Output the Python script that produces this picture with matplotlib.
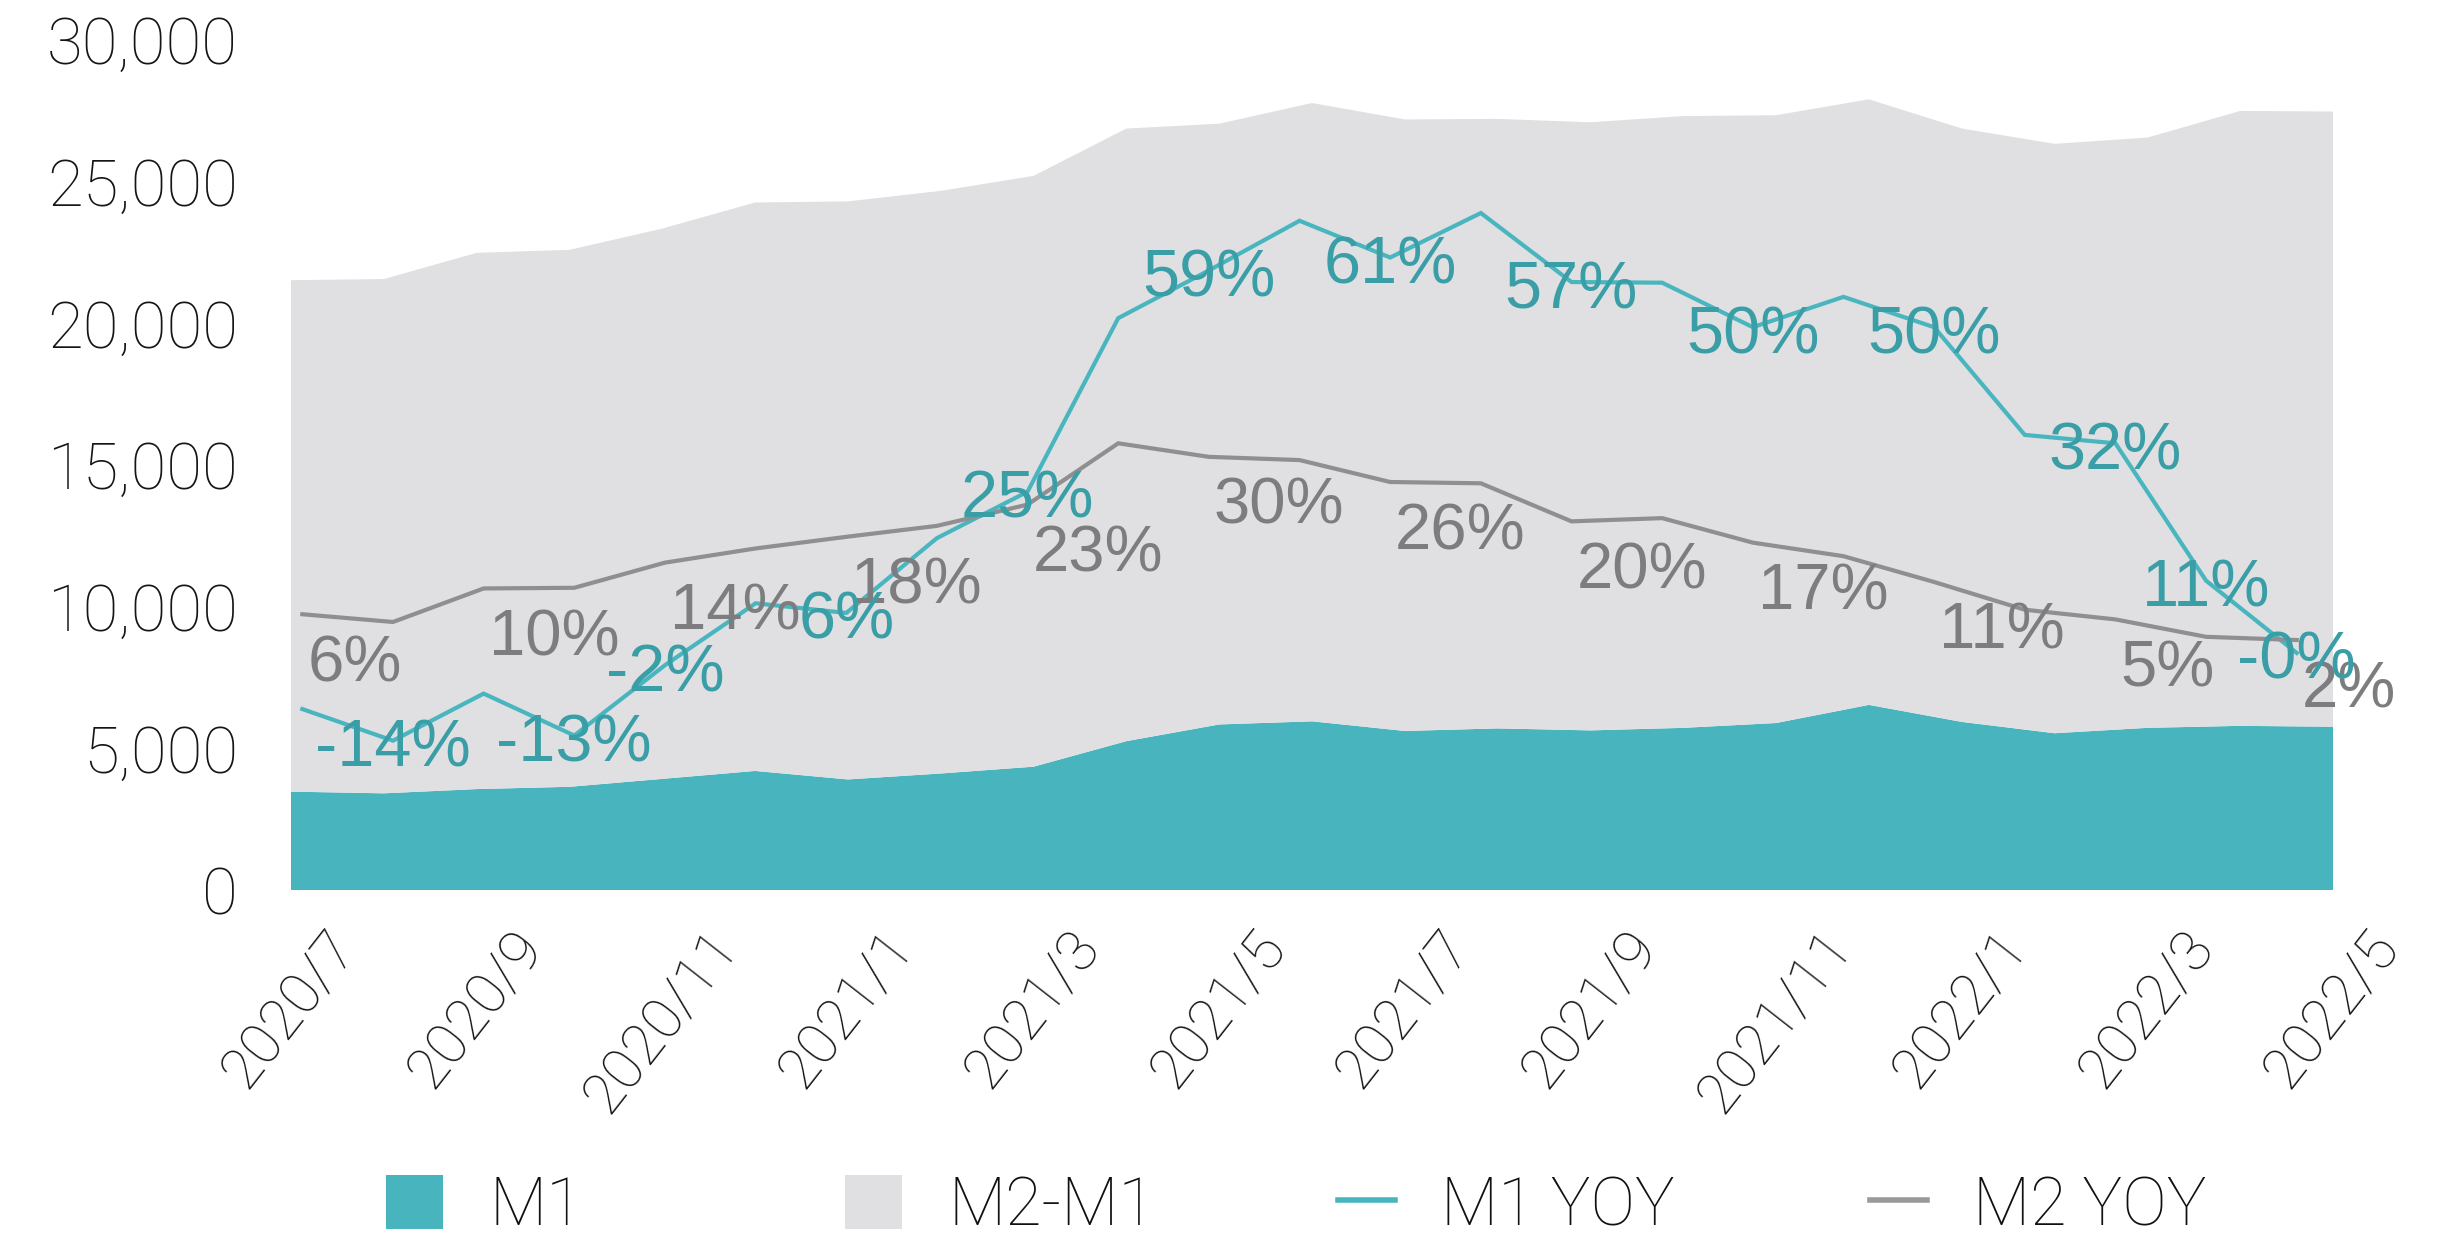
import matplotlib
matplotlib.use("Agg")
import matplotlib.pyplot as plt
from matplotlib.patches import Patch
from matplotlib.lines import Line2D
from matplotlib.ticker import FuncFormatter
import numpy as np

# ---------------- data ----------------
months = ["2020/7", "2020/8", "2020/9", "2020/10", "2020/11", "2020/12",
          "2021/1", "2021/2", "2021/3", "2021/4", "2021/5", "2021/6",
          "2021/7", "2021/8", "2021/9", "2021/10", "2021/11", "2021/12",
          "2022/1", "2022/2", "2022/3", "2022/4", "2022/5"]

m1 = [3470, 3410, 3560, 3640, 3920, 4200, 3900, 4110, 4350, 5250, 5840, 5950,
      5610, 5700, 5630, 5720, 5890, 6530, 5930, 5530, 5720, 5790, 5760]

m2 = [21510, 21550, 22475, 22580, 23330, 24250, 24290, 24660, 25190, 26860,
      27030, 27760, 27180, 27200, 27080, 27300, 27330, 27890, 26860, 26320,
      26540, 27480, 27460]

m1_yoy = [-9.1, -14.0, -6.7, -13.2, -2.3, 7.3, 5.8, 17.4, 24.6, 51.5, 58.9, 66.6,
          60.9, 67.8, 57.1, 57.0, 50.1, 54.8, 50.1, 33.4, 32.1, 10.8, -0.4]

m2_yoy = [5.6, 4.4, 9.6, 9.7, 13.6, 15.8, 17.6, 19.3, 22.6, 32.1, 30.0, 29.5,
          26.1, 25.9, 20.0, 20.5, 16.7, 14.6, 10.6, 6.3, 4.8, 2.1, 1.6]

m1_label_idx = [1, 3, 4, 6, 8, 10, 12, 14, 16, 18, 20, 21, 22]
m2_label_idx = [0, 2, 4, 6, 8, 10, 12, 14, 16, 18, 20, 22]
tick_idx = [0, 2, 4, 6, 8, 10, 12, 14, 16, 18, 20, 22]
yticks = [0, 5000, 10000, 15000, 20000, 25000, 30000]
legend_labels = ["M1", "M2-M1", "M1 YOY", "M2 YOY"]

# ---------------- style ----------------
TEAL_AREA = "#48B5BE"
GRAY_AREA = "#E0E0E2"
TEAL_LINE = "#49B6BF"
GRAY_LINE = "#8F8F91"
TEAL_TEXT = "#3A9EA7"
GRAY_TEXT = "#7D7D7F"
LIGHT_FAMILY = ["Roboto", "DejaVu Sans"]
LABEL_FAMILY = ["Liberation Sans", "DejaVu Sans"]

W, H = 2438, 1240
fig = plt.figure(figsize=(W / 100, H / 100), dpi=100)
fig.patch.set_facecolor("white")

# plot rectangle in pixels
left_px, right_px, top_px, bottom_px = 291, 2333, 39.5, 890
pos = [left_px / W, 1 - bottom_px / H, (right_px - left_px) / W, (bottom_px - top_px) / H]

ax = fig.add_axes(pos)
x = np.arange(len(months))
m1_arr = np.array(m1)
m2_minus_m1 = np.array(m2) - m1_arr
ax.stackplot(x, m1_arr, m2_minus_m1, colors=[TEAL_AREA, GRAY_AREA], linewidth=0)
ax.set_xlim(0, len(months) - 1)
ax.set_ylim(0, 30000)
for s in ax.spines.values():
    s.set_visible(False)
ax.set_facecolor("none")
ax.set_yticks(yticks)
ax.yaxis.set_major_formatter(FuncFormatter(lambda v, p: f"{v:,.0f}"))
ax.set_xticks(tick_idx)
ax.set_xticklabels([months[i] for i in tick_idx])
ax.tick_params(axis="y", length=0, pad=38, labelsize=47, labelcolor="#151515")
ax.tick_params(axis="x", length=0, pad=22, labelsize=42, labelcolor="#151515")
for lab in ax.get_yticklabels():
    lab.set_fontfamily(LIGHT_FAMILY)
    lab.set_fontweight("light")
for lab in ax.get_xticklabels():
    lab.set_fontfamily(LIGHT_FAMILY)
    lab.set_fontweight("light")
    lab.set_rotation(52)
    lab.set_ha("center")
    lab.set_va("top")

# secondary (hidden) axes for YOY lines
ax2 = fig.add_axes(pos, frameon=False)
ax2.set_facecolor("none")
ax2.set_xlim(-0.125, 22.40)
ax2.set_ylim(-37.15, 94.7)
ax2.axis("off")
ax2.plot(x, m1_yoy, color=TEAL_LINE, lw=3.0, solid_joinstyle="miter")
ax2.plot(x, m2_yoy, color=GRAY_LINE, lw=3.0, solid_joinstyle="miter")

for i in m2_label_idx:
    ax2.annotate(f"{m2_yoy[i]:.0f}%", (x[i], m2_yoy[i]), xytext=(5, -50),
                 textcoords="offset pixels", ha="left", va="center",
                 fontsize=47, color=GRAY_TEXT, family=LABEL_FAMILY,
                 annotation_clip=False)
for i in m1_label_idx:
    ax2.annotate(f"{m1_yoy[i]:.0f}%", (x[i], m1_yoy[i]), xytext=(0, -9),
                 textcoords="offset pixels", ha="center", va="center",
                 fontsize=48, color=TEAL_TEXT, family=LABEL_FAMILY,
                 annotation_clip=False)

# legend (four entries laid out across the bottom)
handles = [Patch(facecolor=TEAL_AREA, edgecolor="none"),
           Patch(facecolor=GRAY_AREA, edgecolor="none"),
           Line2D([], [], color=TEAL_LINE, lw=4),
           Line2D([], [], color="#9A9A9C", lw=4)]
legend_x_px = [386, 845, 1338, 1870]
for h, lab, xp in zip(handles, legend_labels, legend_x_px):
    leg = fig.legend([h], [lab], loc="center left",
                     bbox_to_anchor=(xp / W, (H - 1207) / H),
                     frameon=False, borderpad=0, borderaxespad=0,
                     handlelength=0.85, handleheight=0.85, handletextpad=0.7,
                     prop=dict(family=LIGHT_FAMILY, weight="light", size=48))
    for t in leg.get_texts():
        t.set_color("#111111")

fig.savefig("out.png", dpi=100, facecolor="white")
